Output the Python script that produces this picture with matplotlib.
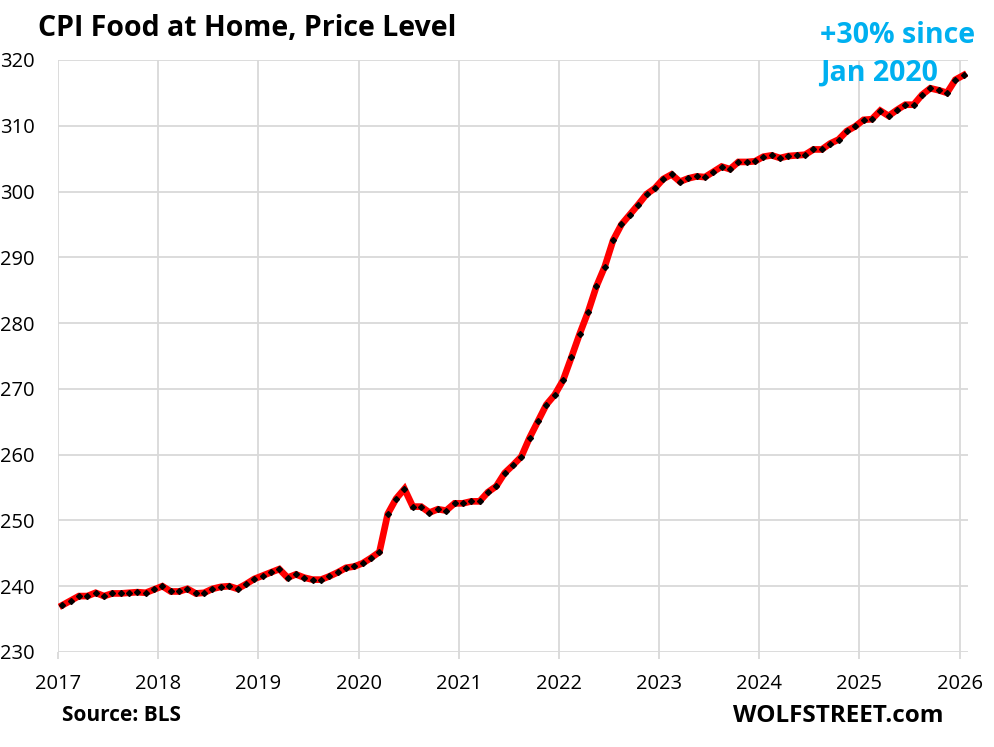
import matplotlib
matplotlib.use("Agg")
import matplotlib.pyplot as plt
import numpy as np

# CPI Food at Home, monthly, Jan 2017 .. Jan 2026
start_year = 2017
cpi_2017 = [237.1, 237.8, 238.5, 238.5, 239.0, 238.5, 238.9, 238.9, 239.0, 239.1, 239.0, 239.5]
cpi_2018 = [240.0, 239.2, 239.2, 239.6, 238.9, 239.0, 239.6, 239.9, 240.0, 239.6, 240.3, 241.1]
cpi_2019 = [241.6, 242.1, 242.6, 241.3, 241.8, 241.3, 241.0, 241.0, 241.5, 242.1, 242.8, 243.0]
cpi_2020 = [243.5, 244.3, 245.2, 251.0, 253.3, 254.8, 252.1, 252.1, 251.2, 251.7, 251.5, 252.6]
cpi_2021 = [252.6, 252.9, 252.9, 254.3, 255.2, 257.2, 258.4, 259.7, 262.6, 265.1, 267.6, 269.1]
cpi_2022 = [271.3, 274.8, 278.4, 281.7, 285.6, 288.6, 292.6, 295.0, 296.5, 298.0, 299.6, 300.5]
cpi_2023 = [301.9, 302.6, 301.5, 302.0, 302.3, 302.2, 303.0, 303.8, 303.4, 304.5, 304.5, 304.6]
cpi_2024 = [305.3, 305.5, 305.1, 305.4, 305.5, 305.6, 306.4, 306.4, 307.3, 307.9, 309.2, 309.9]
cpi_2025 = [310.9, 311.0, 312.3, 311.5, 312.4, 313.2, 313.2, 314.7, 315.7, 315.4, 315.0, 317.0]
cpi_2026 = [317.7]

cpi = (cpi_2017 + cpi_2018 + cpi_2019 + cpi_2020 + cpi_2021 + cpi_2022
       + cpi_2023 + cpi_2024 + cpi_2025 + cpi_2026)
# mid-month position on a year axis
dates = start_year + (np.arange(len(cpi)) + 0.5) / 12

year_ticks = list(range(2017, 2027))
y_ticks = list(range(230, 321, 10))

plt.rcParams['font.family'] = ['Open Sans', 'DejaVu Sans']

fig = plt.figure(figsize=(9.94, 7.47), dpi=100)
ax = fig.add_axes([0.0584, 0.1272, 0.915, 0.7925])

grid_col = '#d9d9d9'
ax.plot(dates, cpi, color='#ff0000', linewidth=4.8, solid_joinstyle='miter', zorder=3)
ax.plot(dates, cpi, linestyle='none', marker='D', markersize=3, color='black', zorder=4)

ax.set_xlim(2017, 2026.08)
ax.set_ylim(230, 320)
ax.set_xticks(year_ticks)
ax.set_yticks(y_ticks)
ax.grid(True, color=grid_col, linewidth=1.3)
ax.set_axisbelow(True)
for s in ax.spines.values():
    s.set_visible(False)

ax.tick_params(axis='x', length=5, width=1.3, color=grid_col, pad=11, labelsize=14.5)
ax.tick_params(axis='y', length=0, pad=17, labelsize=14.5)

fig.text(0.038, 0.962, 'CPI Food at Home, Price Level', fontsize=20.5,
         fontweight='bold', ha='left', va='center')
fig.text(0.825, 0.953, '+30% since', fontsize=20.5, fontweight='bold',
         color='#00b0f0', ha='left', va='center')
fig.text(0.825, 0.902, 'Jan 2020', fontsize=20.5, fontweight='bold',
         color='#00b0f0', ha='left', va='center')
fig.text(0.062, 0.042, 'Source: BLS', fontsize=15, fontweight='bold',
         ha='left', va='center')
fig.text(0.949, 0.042, 'WOLFSTREET.com', fontsize=17.5, fontweight='bold',
         ha='right', va='center')

fig.savefig('out.png', dpi=100)
